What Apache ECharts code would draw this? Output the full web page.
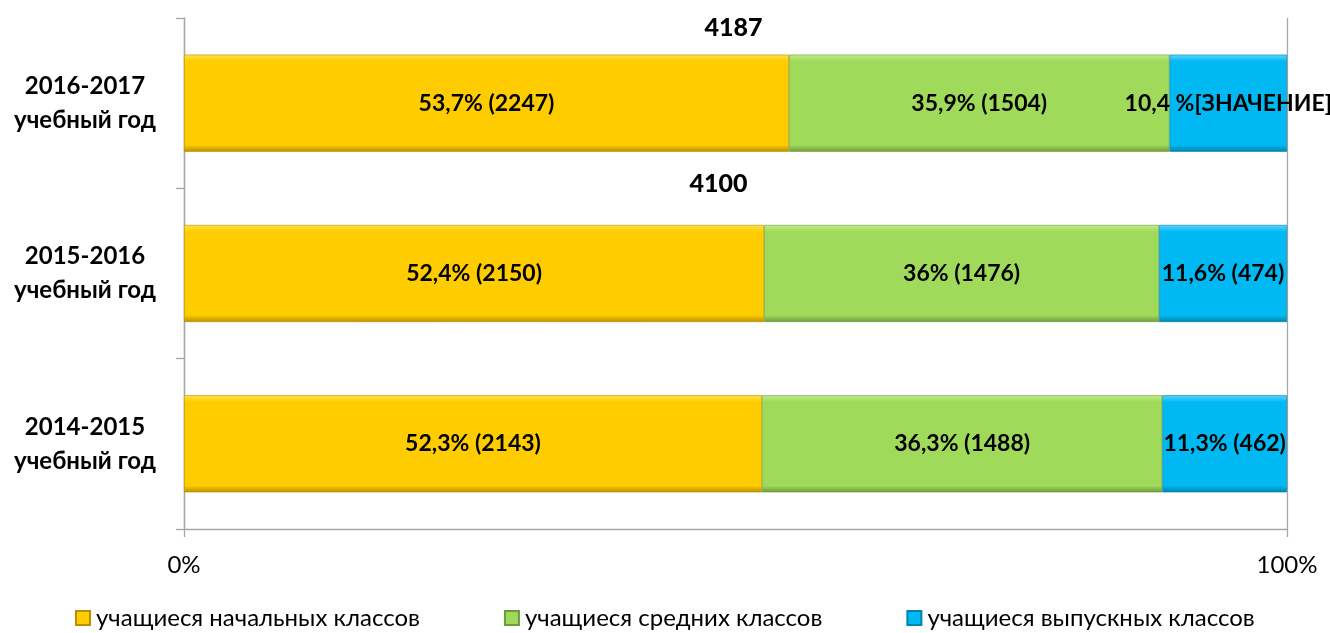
<!DOCTYPE html>
<html>
<head>
<meta charset="utf-8">
<script src="https://cdn.jsdelivr.net/npm/echarts@6/dist/echarts.min.js"></script>
<style>
  html, body { margin: 0; padding: 0; background: #fff; }
  #chart { width: 1330px; height: 633px; }
</style>
</head>
<body>
<div id="chart"></div>
<script>
// categories, bottom to top
var years = ["2014-2015\nучебный год", "2015-2016\nучебный год", "2016-2017\nучебный год"];
var seriesNames = ["учащиеся начальных классов", "учащиеся средних классов", "учащиеся выпускных классов"];

// bar shares (%) as drawn in the picture
var primaryShare = [52.4, 52.6, 54.85];
var middleShare = [36.3, 35.8, 34.5];
var seniorShare = [11.3, 11.6, 10.65];

// label texts
var primaryLabels = ["52,3% (2143)", "52,4% (2150)", "53,7% (2247)"];
var middleLabels = ["36,3% (1488)", "36% (1476)", "35,9% (1504)"];
var seniorLabels = ["11,3% (462)", "11,6% (474)", "10,4 %[ЗНАЧЕНИЕ]"];

// totals shown above bars (bottom one not shown)
var totals = [null, 4100, 4187];

var xTicks = [0, 100];

var colors = [
  ["#ffe14a", "#ffcc00", "#b88f00"],
  ["#c0ee88", "#a0da5a", "#6f9a3a"],
  ["#5fd6ff", "#00b9f2", "#0083ac"]
];

function bevel(c) {
  return new echarts.graphic.LinearGradient(0, 0, 0, 1, [
    { offset: 0, color: c[0] },
    { offset: 0.07, color: c[1] },
    { offset: 0.93, color: c[1] },
    { offset: 1, color: c[2] }
  ]);
}

var font = "Lato, 'Noto Sans', sans-serif";

function barSeries(idx, values, labels) {
  return {
    name: seriesNames[idx],
    type: "bar",
    stack: "total",
    barWidth: "57%",
    data: values,
    itemStyle: {
      color: bevel(colors[idx]),
      borderColor: colors[idx][2],
      borderWidth: 0.6
    },
    label: {
      show: true,
      position: "inside",
      color: "#000",
      fontFamily: font,
      fontWeight: "bold",
      fontSize: 23,
      formatter: function (p) { return labels[p.dataIndex]; }
    }
  };
}

// positions of the total labels
var totalOffsets = [[0, 0], [-17, -90], [-2, -75]];
var totalData = [];
totals.forEach(function (t, i) {
  if (t === null) return;
  totalData.push({
    value: [50, years[i]],
    label: {
      show: true,
      offset: totalOffsets[i],
      formatter: String(t),
      color: "#000",
      fontFamily: font,
      fontWeight: 900,
      fontSize: 25
    }
  });
});

var chartDom = document.getElementById("chart");
var myChart = echarts.init(chartDom);
var option = {
  animation: false,
  color: colors.map(function (c) { return c[1]; }),
  grid: { left: 184, right: 43, top: 18, bottom: 104, containLabel: false },
  legend: {
    top: 601,
    left: 70,
    itemWidth: 14,
    itemHeight: 14,
    itemGap: 84,
    icon: "rect",
    data: seriesNames,
    textStyle: { fontFamily: font, fontSize: 24, color: "#000", padding: [0, 0, 0, 1] }
  },
  xAxis: {
    type: "value",
    min: 0,
    max: 100,
    interval: 100,
    axisLine: { show: true, lineStyle: { color: "#a6a6a6", width: 1.3 } },
    axisTick: { show: true, length: 8, lineStyle: { color: "#a6a6a6", width: 1.3 } },
    splitLine: { show: true, lineStyle: { color: "#a6a6a6", width: 1.3 } },
    axisLabel: {
      margin: 24,
      fontFamily: font,
      fontSize: 24,
      color: "#000",
      formatter: function (v) { return xTicks.indexOf(v) >= 0 ? v + "%" : ""; }
    }
  },
  yAxis: {
    type: "category",
    data: years,
    axisLine: { show: true, lineStyle: { color: "#a6a6a6", width: 1.3 } },
    axisTick: { show: true, length: 8, lineStyle: { color: "#a6a6a6", width: 1.3 } },
    axisLabel: {
      margin: 99,
      align: "center",
      fontFamily: font,
      fontWeight: "bold",
      fontSize: 24,
      lineHeight: 34,
      color: "#000"
    }
  },
  series: [
    barSeries(0, primaryShare, primaryLabels),
    barSeries(1, middleShare, middleLabels),
    barSeries(2, seniorShare, seniorLabels),
    {
      name: "totals",
      type: "scatter",
      symbolSize: 0,
      silent: true,
      itemStyle: { opacity: 1 },
      data: totalData,
      label: { show: true, position: "inside" },
      z: 10
    }
  ]
};
myChart.setOption(option);
</script>
</body>
</html>
